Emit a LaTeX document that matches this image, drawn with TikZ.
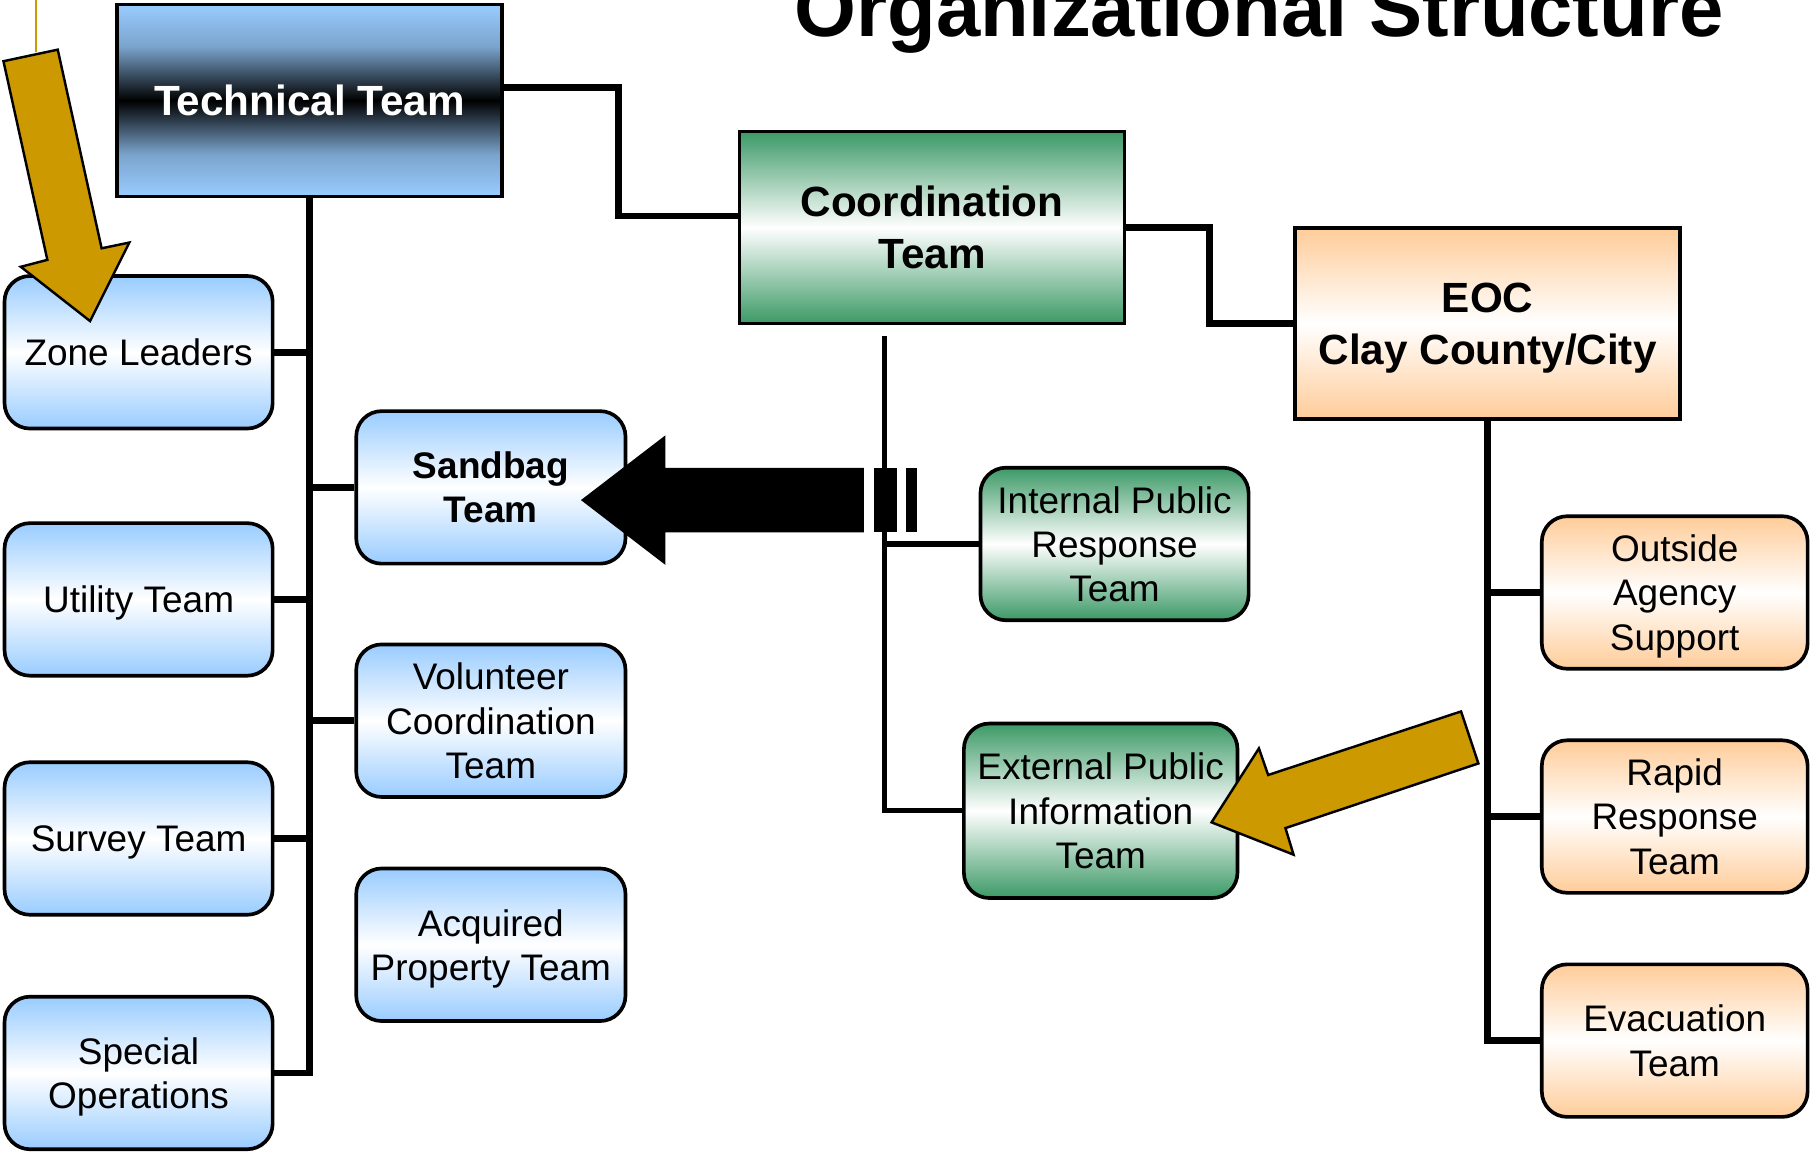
\documentclass[tikz,border=0pt]{standalone}
\usepackage{fontspec}
\setmainfont{Liberation Sans}
\definecolor{skyblue}{RGB}{153,204,255}
\definecolor{teamgreen}{RGB}{60,153,102}
\definecolor{peach}{RGB}{255,204,153}
\definecolor{gold}{RGB}{204,153,0}
\pgfdeclareverticalshading{techshade}{100bp}{color(0bp)=(skyblue); color(25bp)=(skyblue); color(36bp)=(skyblue!80!black); color(50bp)=(black); color(64bp)=(skyblue!80!black); color(75bp)=(skyblue); color(100bp)=(skyblue)}

\begin{document}
\begin{tikzpicture}[x=0.01cm,y=-0.01cm,
	team/.style={draw,line width=0.9pt,rounded corners=0.22cm,minimum width=2.32cm,minimum height=1.32cm,align=center,text depth=0pt,font=\fontsize{9.1}{10.9}\selectfont},
	blueteam/.style={team,top color=skyblue,bottom color=skyblue,middle color=white},
	greenteam/.style={team,top color=teamgreen,bottom color=teamgreen,middle color=white},
	peachteam/.style={team,top color=peach,bottom color=peach,middle color=white},
	headbox/.style={draw,line width=0.9pt,minimum width=3.33cm,minimum height=1.66cm,align=center,text depth=0pt,font=\bfseries\fontsize{10.4}{12.8}\selectfont},
	link/.style={line width=1.7pt},
	pointer/.style={fill=gold,draw=black,line width=0.6pt,line join=miter}]

	\useasboundingbox (0,0) rectangle (1568,997);
	\clip (0,0) rectangle (1568,997);

	\node[anchor=base,font=\bfseries\fontsize{19.6}{24}\selectfont] (title) at (1090,32) {Organizational Structure};

	% top level
	\node[headbox,shading=techshade,text=white] (tech) at (268,87) {Technical Team};
	\node[headbox,top color=teamgreen,bottom color=teamgreen,middle color=white] (coord) at (807,197) {Coordination\\Team};
	\node[headbox,top color=peach,bottom color=peach,middle color=white,minimum height=1.65cm] (eoc) at (1288,280) {EOC\\Clay County/City};

	% technical team
	\node[blueteam] (zone) at (120,305) {Zone Leaders};
	\node[blueteam] (utility) at (120,519) {Utility Team};
	\node[blueteam] (survey) at (120,726) {Survey Team};
	\node[blueteam] (special) at (120,929) {Special\\Operations};
	\node[blueteam,minimum width=2.33cm,font=\bfseries\fontsize{9.1}{10.9}\selectfont] (sandbag) at (425,422) {Sandbag\\Team};
	\node[blueteam,minimum width=2.33cm] (volunteer) at (425,624) {Volunteer\\Coordination\\Team};
	\node[blueteam,minimum width=2.33cm] (acquired) at (425,818) {Acquired\\Property Team};

	% coordination team
	\node[greenteam] (internal) at (965,471) {Internal Public\\Response\\Team};
	\node[greenteam,minimum width=2.35cm,minimum height=1.51cm] (external) at (953,702) {External Public\\Information\\Team};

	% eoc
	\node[peachteam,minimum width=2.30cm] (outside) at (1450,513) {Outside\\Agency\\Support};
	\node[peachteam,minimum width=2.30cm] (rapid) at (1450,707) {Rapid\\Response\\Team};
	\node[peachteam,minimum width=2.30cm] (evac) at (1450,901) {Evacuation\\Team};

	% connectors
	\draw[link] ([yshift=0.11cm]tech.east) -- ++(99,0) |- ([yshift=0.10cm]coord.west);
	\draw[link] (coord.east) -- ++(72,0) |- (eoc.west);

	\draw[link] (tech.south) |- (special.east);
	\draw[link] (zone.east) -- (zone.east -| tech.south);
	\draw[link] (utility.east) -- (utility.east -| tech.south);
	\draw[link] (survey.east) -- (survey.east -| tech.south);
	\draw[link] (sandbag.west) -- (sandbag.west -| tech.south);
	\draw[link] (volunteer.west) -- (volunteer.west -| tech.south);

	\coordinate (ctop) at (766,291);
	\draw[link,line width=1.3pt] (ctop) |- (external.west);
	\draw[link] (internal.west) -- (internal.west -| ctop);

	\draw[link] (eoc.south) |- (evac.west);
	\draw[link] (outside.west) -- (outside.west -| eoc.south);
	\draw[link] (rapid.west) -- (rapid.west -| eoc.south);

	% black arrow to sandbag team
	\fill (748,405) -- (576,405) -- (576,377) -- (503,433) -- (576,489) -- (576,461) -- (748,461) -- cycle;
	\fill (757,405) rectangle (777,461);
	\fill (784,405) rectangle (794,461);

	% gold arrows
	\draw[gold,line width=0.6pt] (31,0) -- (31,45);
	\draw[pointer] (3,53) -- (50,43) -- (88,215) -- (112,210) -- (78,278) -- (18,231) -- (41,225) -- cycle;
	\draw[pointer] (1265,616) -- (1280,661) -- (1113,717) -- (1120,740) -- (1049,712) -- (1090,648) -- (1098,671) -- cycle;

\end{tikzpicture}
\end{document}
